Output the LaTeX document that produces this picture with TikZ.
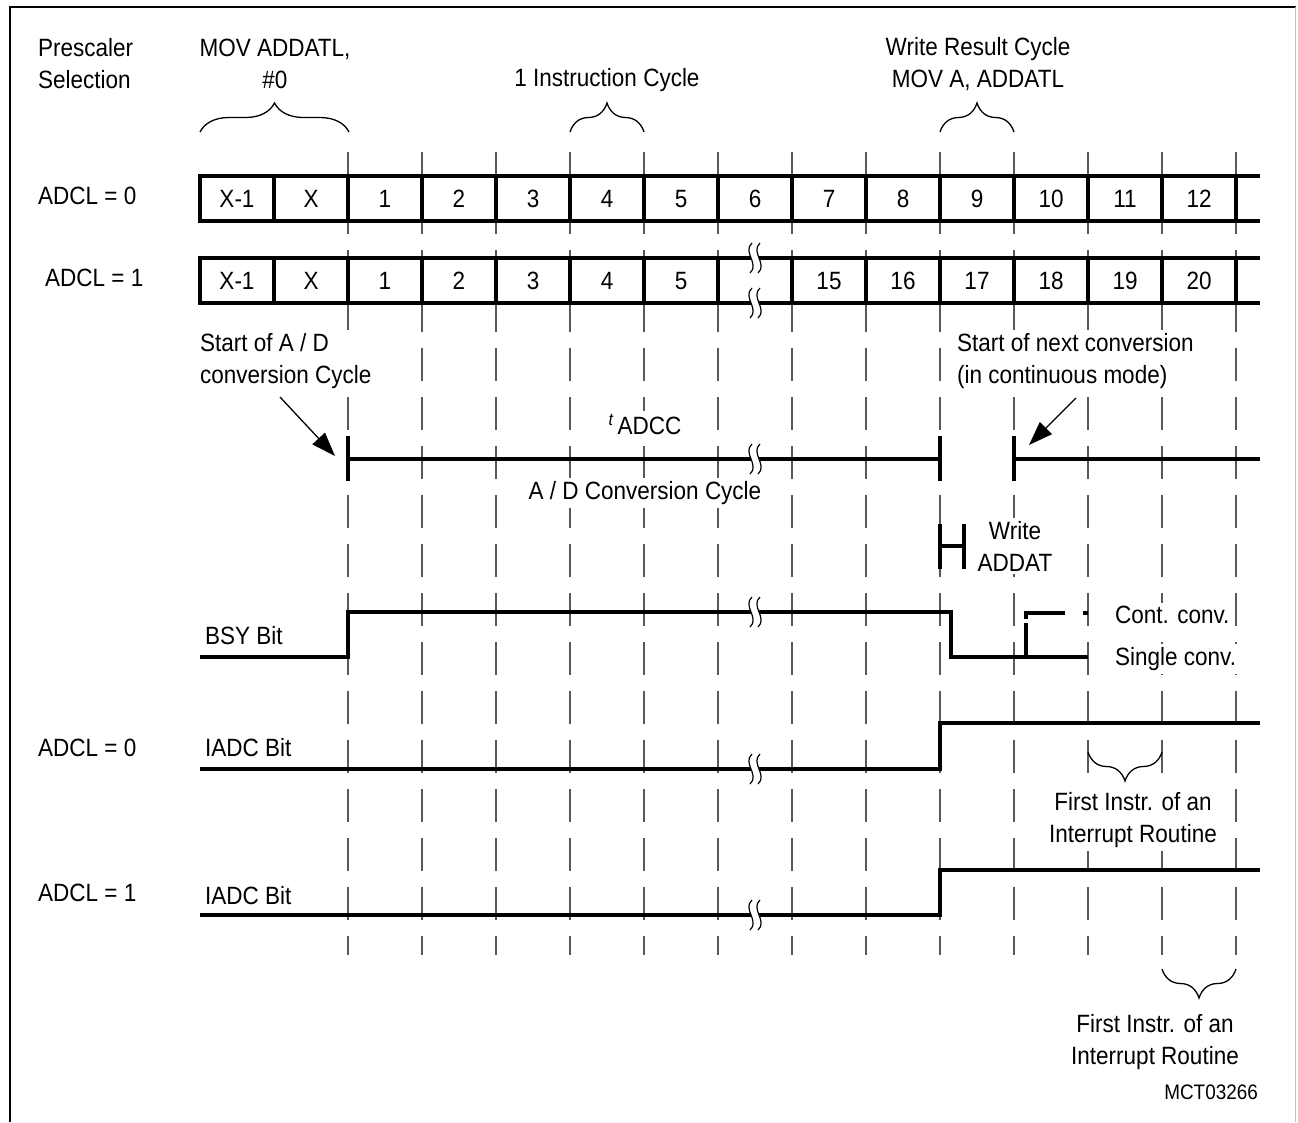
\documentclass[tikz,border=0pt]{standalone}
\usepackage{fontspec}
\setmainfont{Liberation Sans}[FakeStretch=0.9]
\usetikzlibrary{arrows.meta,decorations.pathreplacing}
\tikzset{
  gridln/.style={draw=black!65, line width=1.2pt, dash pattern=on 33pt off 16pt},
  sig/.style={line width=4pt, line join=miter},
  txt/.style={font=\fontsize{25}{32}\selectfont, inner sep=1pt},
  wtxt/.style={txt, fill=white, inner sep=3pt},
  cell/.style={font=\fontsize{25}{32}\selectfont, inner sep=0pt},
  brc/.style={line width=1.3pt, decorate, decoration={brace, amplitude=29pt}},
  brcm/.style={line width=1.3pt, decorate, decoration={brace, mirror, amplitude=29pt}},
  arr/.style={line width=1.3pt, -{Triangle[length=24pt,width=17pt]}},
}
\newcommand\brkmark[2]{%
  \fill[white] (#1-3,#2-15) .. controls (#1-13,#2-6) and (#1+5,#2+6) .. (#1-5,#2+15)
     -- (#1+3,#2+15) .. controls (#1+13,#2+6) and (#1-5,#2-6) .. (#1+5,#2-15) -- cycle;
  \draw[line width=1.2pt] (#1-3,#2-15) .. controls (#1-13,#2-6) and (#1+5,#2+6) .. (#1-5,#2+15);
  \draw[line width=1.2pt] (#1+5,#2-15) .. controls (#1-5,#2-6) and (#1+13,#2+6) .. (#1+3,#2+15);
}
\begin{document}
\begin{tikzpicture}[x=1pt,y=-1pt]
\useasboundingbox (0,0) rectangle (1298,1122);
% frame
\draw[line width=2.2pt] (10,1122) -- (10,7) -- (1296,7);
\draw[black!25, line width=1pt] (1295,7) -- (1295,1122);

% grid lines
\foreach \x in {348,422,...,1236} \draw[gridln] (\x,152) -- (\x,955);

% row 1
\draw[sig] (200,176) rectangle (1236,221);
\draw[sig] (1236,176) -- (1260,176) (1236,221) -- (1260,221);
\foreach \x in {274,348,...,1162} \draw[sig] (\x,176) -- (\x,221);
\foreach \t [count=\i from 0] in {X-1,X,1,2,3,4,5,6,7,8,9,10,11,12}
  \node[cell] (ra\i) at (237+74*\i,199) {\t};

% row 2
\draw[sig] (200,258) rectangle (1236,303);
\draw[sig] (1236,258) -- (1260,258) (1236,303) -- (1260,303);
\foreach \x in {274,348,...,1162} \draw[sig] (\x,258) -- (\x,303);
\brkmark{755}{258}
\brkmark{755}{303}
\foreach \t [count=\i from 0] in {X-1,X,1,2,3,4,5}
  \node[cell] (rb\i) at (237+74*\i,281) {\t};
\foreach \t [count=\i from 8] in {15,16,17,18,19,20}
  \node[cell] (rb\i) at (237+74*\i,281) {\t};

% braces top
\draw[brc] (200,132) -- (349,132);
\draw[brc] (570,132) -- (644,132);
\draw[brc] (940,132) -- (1014,132);

% top labels
\node[txt, anchor=west, align=left] (pre) at (37,64) {Prescaler\\Selection};
\node[txt, align=center] (mov) at (275,64) {MOV ADDATL,\\\#0};
\node[txt] (ic) at (607,80) {1 Instruction Cycle};
\node[txt, align=center] (wr) at (978,64) {Write Result Cycle\\MOV A, ADDATL};
\node[txt, anchor=west] (l1) at (37,196) {ADCL = 0};
\node[txt, anchor=west] (l2) at (44,278) {ADCL = 1};

% conversion cycle line
\draw[sig] (348,459) -- (940,459);
\draw[sig] (348,436) -- (348,481);
\draw[sig] (940,436) -- (940,481);
\draw[sig] (1014,436) -- (1014,481);
\draw[sig] (1014,459) -- (1260,459);
\brkmark{755}{459}

\coordinate (a1s) at (280,397);
\coordinate (a1e) at (335,456);
\coordinate (a2s) at (1076,398);
\coordinate (a2e) at (1029,445);
\draw[arr] (a1s) -- (a1e);
\draw[arr] (a2s) -- (a2e);

\node[wtxt, anchor=west, align=left] (st) at (197,361) {Start of A / D\\conversion Cycle};
\node[wtxt, anchor=west, align=left] (sn) at (954,361) {Start of next conversion\\(in continuous mode)};
\node[wtxt] (tadcc) at (645,424) {\textsuperscript{\itshape t}\,ADCC};
\node[wtxt] (adc) at (645,493) {A / D Conversion Cycle};

% write addat
\draw[sig] (940,524) -- (940,569);
\draw[sig] (964,524) -- (964,569);
\draw[sig] (940,546) -- (964,546);
\node[wtxt, align=center] (wa) at (1015,546) {Write\\ADDAT};

% BSY
\draw[sig] (200,657) -- (348,657) -- (348,612) -- (951,612) -- (951,657) -- (1088,657);
\brkmark{755}{612}
\draw[sig] (1026,657) -- (1026,623);
\draw[sig] (1026,619) -- (1026,613) -- (1065,613);
\draw[sig] (1083,613) -- (1088,613);
\node[txt, anchor=west] (bsy) at (204,636) {BSY Bit};
\node[wtxt, anchor=west] (cont) at (1112,615) {Cont. conv.};
\node[wtxt, anchor=west] (single) at (1112,659) {Single conv.};

% IADC, ADCL=0
\draw[sig] (200,769) -- (940,769) -- (940,723) -- (1260,723);
\brkmark{755}{769}
\node[txt, anchor=west] (l3) at (37,748) {ADCL = 0};
\node[txt, anchor=west] (ia1) at (204,748) {IADC Bit};
\draw[brcm] (1088,752) -- (1162,752);
\node[wtxt, align=center] (fi1) at (1133,820) {First Instr. of an\\Interrupt Routine};

% IADC, ADCL=1
\draw[sig] (200,915) -- (940,915) -- (940,870) -- (1260,870);
\brkmark{755}{915}
\node[txt, anchor=west] (l4) at (37,893) {ADCL = 1};
\node[txt, anchor=west] (ia2) at (204,896) {IADC Bit};
\draw[brcm] (1162,969) -- (1236,969);
\node[wtxt, align=center] (fi2) at (1155,1042) {First Instr. of an\\Interrupt Routine};

\node[font=\fontsize{21}{25}\selectfont, inner sep=1pt, anchor=east] (mct) at (1259,1092) {MCT03266};
\end{tikzpicture}
\end{document}
